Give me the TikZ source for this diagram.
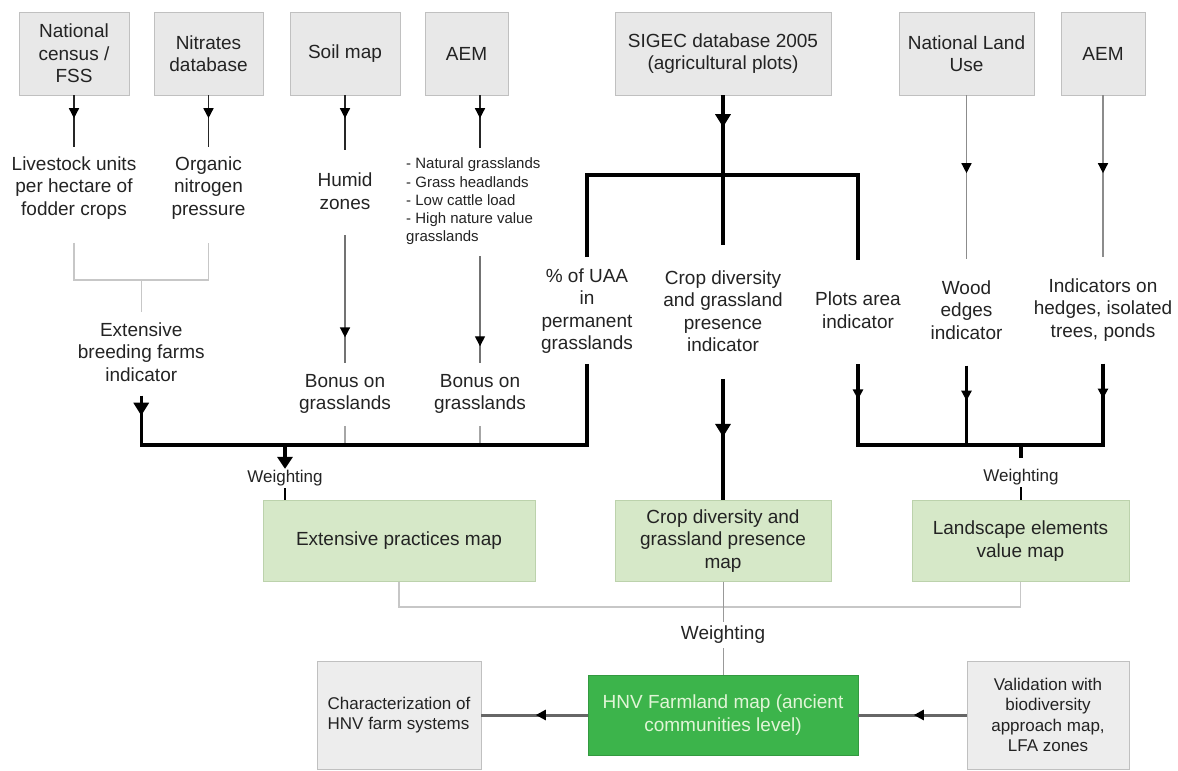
\documentclass[tikz,border=0pt]{standalone}
\usepackage{fontspec}
\setmainfont{Liberation Sans}
\usetikzlibrary{arrows.meta,decorations.markings}

\definecolor{boxgray}{RGB}{232,232,232}
\definecolor{boxedge}{RGB}{192,192,192}
\definecolor{mapgreen}{RGB}{214,232,200}
\definecolor{mapedge}{RGB}{188,210,172}
\definecolor{hnvgreen}{RGB}{60,180,75}
\definecolor{hnvtext}{RGB}{225,245,215}
\definecolor{txt}{RGB}{35,35,35}

\begin{document}
\begin{tikzpicture}
[x=1pt, y=-1pt, font=\fontsize{19}{22.5}\selectfont, text=txt]
\tikzstyle{src}=[draw=boxedge, fill=boxgray, minimum height=83pt, inner sep=0pt, align=center]
\tikzstyle{ind}=[inner sep=0pt, align=center]
\tikzstyle{mapbox}=[draw=mapedge, fill=mapgreen, minimum height=81pt, inner sep=0pt, align=center]
\tikzstyle{outbox}=[draw=boxedge, fill=boxgray!80!white, minimum height=108pt, inner sep=0pt, align=center, font=\fontsize{17}{20.6}\selectfont]
\tikzstyle{wgt}=[inner sep=0pt, font=\fontsize{17}{20}\selectfont]
\tikzstyle{feed}=[draw=black!85, line width=1.5pt]
\tikzstyle{grayline}=[draw=black!55, line width=1.4pt]
\tikzstyle{bracket}=[draw=black!22, line width=1.3pt]
\tikzstyle{bus}=[draw=black, line width=3.2pt]
\tikzstyle{hline}=[draw=black!40, line width=1pt]
\tikzstyle{garrow}=[draw=black!60, line width=3pt]
\tikzset{midarrow/.style={postaction={decorate}, decoration={markings,
  mark=at position #1 with {\arrow[black]{Triangle[width=10pt,length=10pt]}}}}}
\tikzset{bigarrow/.style={postaction={decorate}, decoration={markings,
  mark=at position #1 with {\arrow[black]{Triangle[width=15pt,length=13pt]}}}}}

\useasboundingbox (0,0) rectangle (1178,771);

% data sources
\node[src, minimum width=110pt] (census) at (74,53.5) {National\\census /\\FSS};
\node[src, minimum width=109pt] (nitrates) at (208.5,53.5) {Nitrates\\database};
\node[src, minimum width=110pt] (soil) at (345,53.5) {Soil map};
\node[src, minimum width=83pt] (aem1) at (466.5,53.5) {AEM};
\node[src, minimum width=216pt] (sigec) at (723,53.5) {SIGEC database 2005\\(agricultural plots)};
\node[src, minimum width=135pt] (landuse) at (966.5,53.5) {National Land\\Use};
\node[src, minimum width=84pt] (aem2) at (1103,53.5) {AEM};

% indicators
\node[ind] (livestock) at (74,188) {Livestock units\\per hectare of\\fodder crops};
\node[ind] (organic) at (208.5,188) {Organic\\nitrogen\\pressure};
\node[ind] (humid) at (345,191) {Humid\\zones};
\node[ind, anchor=west, align=left, font=\fontsize{15}{18.3}\selectfont] (aemlist) at (406,201.5)
  {- Natural grasslands\\- Grass headlands\\- Low cattle load\\- High nature value\\grasslands};
\node[ind] (extbreed) at (141.25,352) {Extensive\\breeding farms\\indicator};
\node[ind] (bonus1) at (345,394) {Bonus on\\grasslands};
\node[ind] (bonus2) at (480,394) {Bonus on\\grasslands};
\node[ind] (uaa) at (587,311) {\% of UAA\\in\\permanent\\grasslands};
\node[ind] (cropind) at (723,311) {Crop diversity\\and grassland\\presence\\indicator};
\node[ind] (plots) at (858,310) {Plots area\\indicator};
\node[ind] (wood) at (966.5,310) {Wood\\edges\\indicator};
\node[ind] (hedges) at (1103,310) {Indicators on\\hedges, isolated\\trees, ponds};

\node[wgt] (w1) at (285,478) {Weighting};
\node[wgt, font=\fontsize{19}{22}\selectfont] (w2) at (723,635) {Weighting};
\node[wgt] (w3) at (1021,477) {Weighting};

% maps
\node[mapbox, minimum width=272pt] (extmap) at (399,541) {Extensive practices map};
\node[mapbox, minimum width=216pt] (cropmap) at (723,541) {Crop diversity and\\grassland presence\\map};
\node[mapbox, minimum width=217pt] (landmap) at (1020.5,541) {Landscape elements\\value map};
\node[draw=hnvgreen!85!black, fill=hnvgreen, text=hnvtext, minimum width=270pt, minimum height=80pt,
  inner sep=0pt, align=center] (hnv) at (723,715) {HNV Farmland map (ancient\\communities level)};
\node[outbox, minimum width=164pt, align=left] (charact) at (399,715) {Characterization of\\HNV farm systems};
\node[outbox, minimum width=162pt] (valid) at (1048,715) {Validation with\\biodiversity\\approach map,\\LFA zones};

\coordinate (jLO) at (141.25,280);
\coordinate (busL) at (285,445);
\coordinate (busS) at (723,175);
\coordinate (busR) at (1021,445);
\coordinate (jMaps) at (723,607);

\path[feed]
  (census.south) edge[midarrow=23pt, shorten >=9pt] (livestock.north)
  (nitrates.south) edge[midarrow=23pt, shorten >=9pt] (organic.north)
  (soil.south) edge[midarrow=23pt, shorten >=23pt] (humid.north)
  (aem1.south -| bonus2.north) edge[midarrow=23pt, shorten >=10pt] (bonus2.north |- aemlist.north);

\path[grayline]
  ([yshift=-26pt]humid.south) edge[midarrow=102pt, shorten >=11pt] (bonus1.north)
  ([yshift=-11pt]bonus2.north |- aemlist.south) edge[midarrow=90pt, shorten >=11pt] (bonus2.north)
  (landuse.south) edge[draw=black!45, midarrow=78pt, shorten >=21pt] (wood.north)
  (aem2.south) edge[draw=black!45, midarrow=78pt, shorten >=21pt] (hedges.north);

\draw[bracket] ([yshift=-23pt]livestock.south) |- (jLO) -| ([yshift=-23pt]organic.south);
\draw[bracket, shorten >=10pt] (jLO) -- (extbreed.north);
\draw[bracket, draw=black!35] ([yshift=-12pt]bonus1.south) -- (bonus1.south |- busL);
\draw[bracket, draw=black!35] ([yshift=-12pt]bonus2.south) -- (bonus2.south |- busL);

% extensive practices
\draw[bus, bigarrow=20pt] ([yshift=-14pt]extbreed.south) -- (extbreed.south |- busL);
\draw[bus, line cap=rect] (extbreed.south |- busL) -- (uaa.south |- busL);
\draw[bus] ([yshift=-10pt]uaa.south) -- (uaa.south |- busL);
\draw[bus, -{Triangle[width=15pt,length=12pt]}, shorten >=1pt] (busL) -- (w1.north);
\draw[bus, line width=2.6pt] ([yshift=-2pt]w1.south) -- (w1.south |- extmap.north);

% SIGEC
\draw[bus, bigarrow=32pt] (sigec.south) -- (busS);
\draw[bus] ([yshift=11pt]uaa.north) |- (busS) -| ([yshift=32pt]plots.north);
\draw[bus] (busS) -- ([yshift=25pt]cropind.north);
\draw[bus, bigarrow=58pt] ([yshift=-27pt]cropind.south) -- (cropmap.north);

% landscape elements
\draw[bus, midarrow=35pt] ([yshift=-36pt]plots.south) -- (plots.south |- busR);
\draw[bus, midarrow=35pt] ([yshift=-26pt]wood.south) -- (wood.south |- busR);
\draw[bus, midarrow=35pt] ([yshift=-22pt]hedges.south) -- (hedges.south |- busR);
\draw[bus, line cap=rect] (plots.south |- busR) -- (hedges.south |- busR);
\draw[bus, shorten >=11pt] (busR) -- (w3.north);
\draw[bus, line width=2.6pt] ([yshift=-2pt]w3.south) -- (w3.south |- landmap.north);

% final weighting
\draw[bracket] (extmap.south) |- (jMaps) -| (landmap.south);
\draw[hline, shorten >=4pt] (cropmap.south) -- (w2.north);
\draw[hline] ([yshift=-4pt]w2.south) -- (hnv.north);
\draw[garrow, midarrow=52pt] (hnv.west) -- (charact.east);
\draw[garrow, midarrow=53pt] (valid.west) -- (hnv.east);
\end{tikzpicture}
\end{document}
